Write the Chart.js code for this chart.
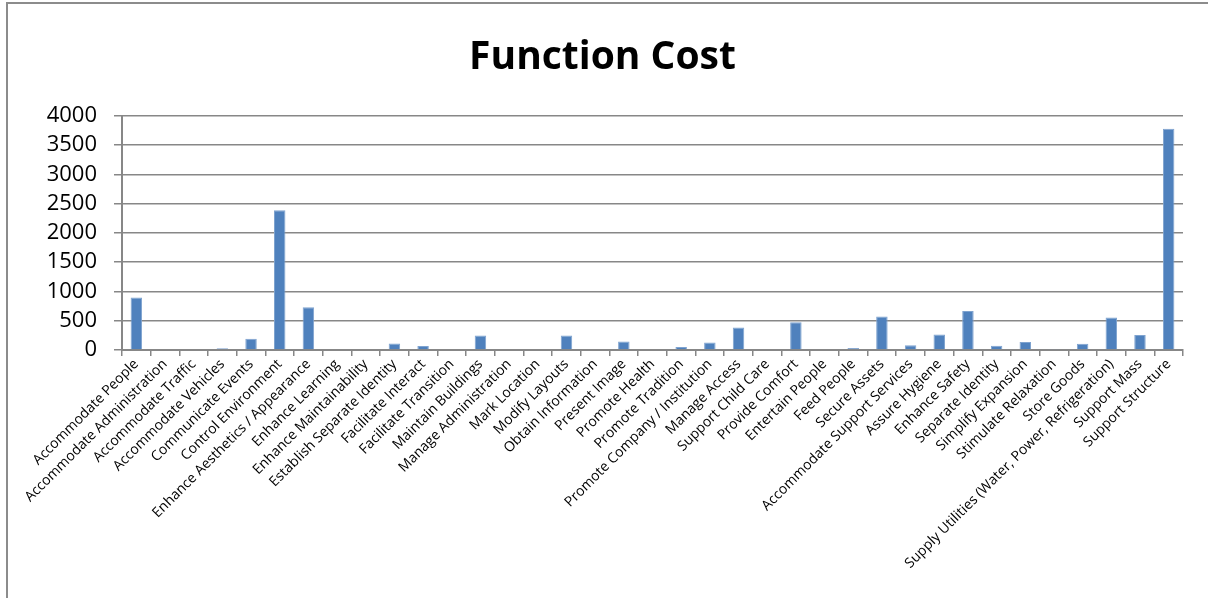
<!DOCTYPE html>
<html>
<head>
<meta charset="utf-8">
<script src="https://cdn.jsdelivr.net/npm/chart.js@4/dist/chart.umd.min.js"></script>
<style>
  body { margin: 0; background: #fff; }
  #wrap { position: relative; width: 1208px; height: 598px; overflow: hidden; }
  #frame { position: absolute; left: 6px; top: 2px; width: 1300px; height: 700px;
           border-left: 2px solid #8c8c8c; border-top: 2px solid #8c8c8c; }
  canvas { position: absolute; left: 0; top: 0; }
</style>
</head>
<body>
<div id="wrap">
  <div id="frame"></div>
  <canvas id="costChart" width="1208" height="598"></canvas>
</div>
<script>
// function cost chart

var functions = [
  'Accommodate People', 'Accommodate Administration', 'Accommodate Traffic',
  'Accommodate Vehicles', 'Communicate Events', 'Control Environment',
  'Enhance Aesthetics / Appearance', 'Enhance Learning', 'Enhance Maintainability',
  'Establish Separate Identity', 'Facilitate Interact', 'Facilitate Transition',
  'Maintain Buildings', 'Manage Administration', 'Mark Location', 'Modify Layouts',
  'Obtain Information', 'Present Image', 'Promote Health', 'Promote Tradition',
  'Promote Company / Institution', 'Manage Access', 'Support Child Care',
  'Provide Comfort', 'Entertain People', 'Feed People', 'Secure Assets',
  'Accommodate Support Services', 'Assure Hygiene', 'Enhance Safety',
  'Separate Identity', 'Simplify Expansion', 'Stimulate Relaxation', 'Store Goods',
  'Supply Utilities (Water, Power, Refrigeration)', 'Support Mass', 'Support Structure'
];

var costs = [
  895, 0, 0, 30, 193, 2385,
  731, 0, 0, 113, 68, 0,
  249, 0, 0, 249, 0, 147,
  0, 51, 130, 385, 0, 476,
  0, 34, 572, 79, 266, 668,
  74, 136, 15, 108, 555, 255, 3777
];

var yTicks = [0, 500, 1000, 1500, 2000, 2500, 3000, 3500, 4000];

var gridGray = '#878787';

var ctx = document.getElementById('costChart').getContext('2d');
var costChart = new Chart(ctx, {
  type: 'bar',
  data: {
    labels: functions,
    datasets: [{
      label: 'Cost',
      data: costs,
      backgroundColor: '#4F81BD',
      borderColor: '#7FA3CF',
      borderWidth: { top: 1, left: 1, right: 1, bottom: 0 },
      barPercentage: 0.4,
      categoryPercentage: 1
    }]
  },
  options: {
    responsive: false,
    animation: false,
    layout: { padding: { left: 22, right: 25, top: 14, bottom: 0 } },
    plugins: {
      legend: { display: false },
      tooltip: { enabled: false },
      title: {
        display: true,
        text: 'Function Cost',
        color: '#000',
        font: { family: 'Open Sans', size: 39, weight: 'bold' },
        padding: { top: 20, bottom: 35 }
      }
    },
    scales: {
      x: {
        grid: {
          offset: true,
          drawOnChartArea: false,
          drawTicks: true,
          tickLength: 6,
          color: gridGray,
          lineWidth: 1.5
        },
        border: { color: gridGray, width: 2 },
        ticks: {
          autoSkip: false,
          maxRotation: 45,
          minRotation: 45,
          padding: 0,
          color: '#000',
          font: { family: 'Open Sans', size: 14 }
        },
        afterFit: function (scale) { scale.height = 248; }
      },
      y: {
        min: 0,
        max: 4000,
        afterBuildTicks: function (scale) {
          scale.ticks = yTicks.map(function (v) { return { value: v }; });
        },
        grid: {
          color: gridGray,
          lineWidth: 1.5,
          drawTicks: true,
          tickLength: 8
        },
        border: { color: gridGray, width: 2 },
        ticks: {
          autoSkip: false,
          padding: 17,
          color: '#000',
          font: { family: 'Open Sans', size: 22 },
          callback: function (v) { return String(v); }
        },
        afterFit: function (scale) { scale.width = 100; }
      }
    }
  }
});
</script>
</body>
</html>
